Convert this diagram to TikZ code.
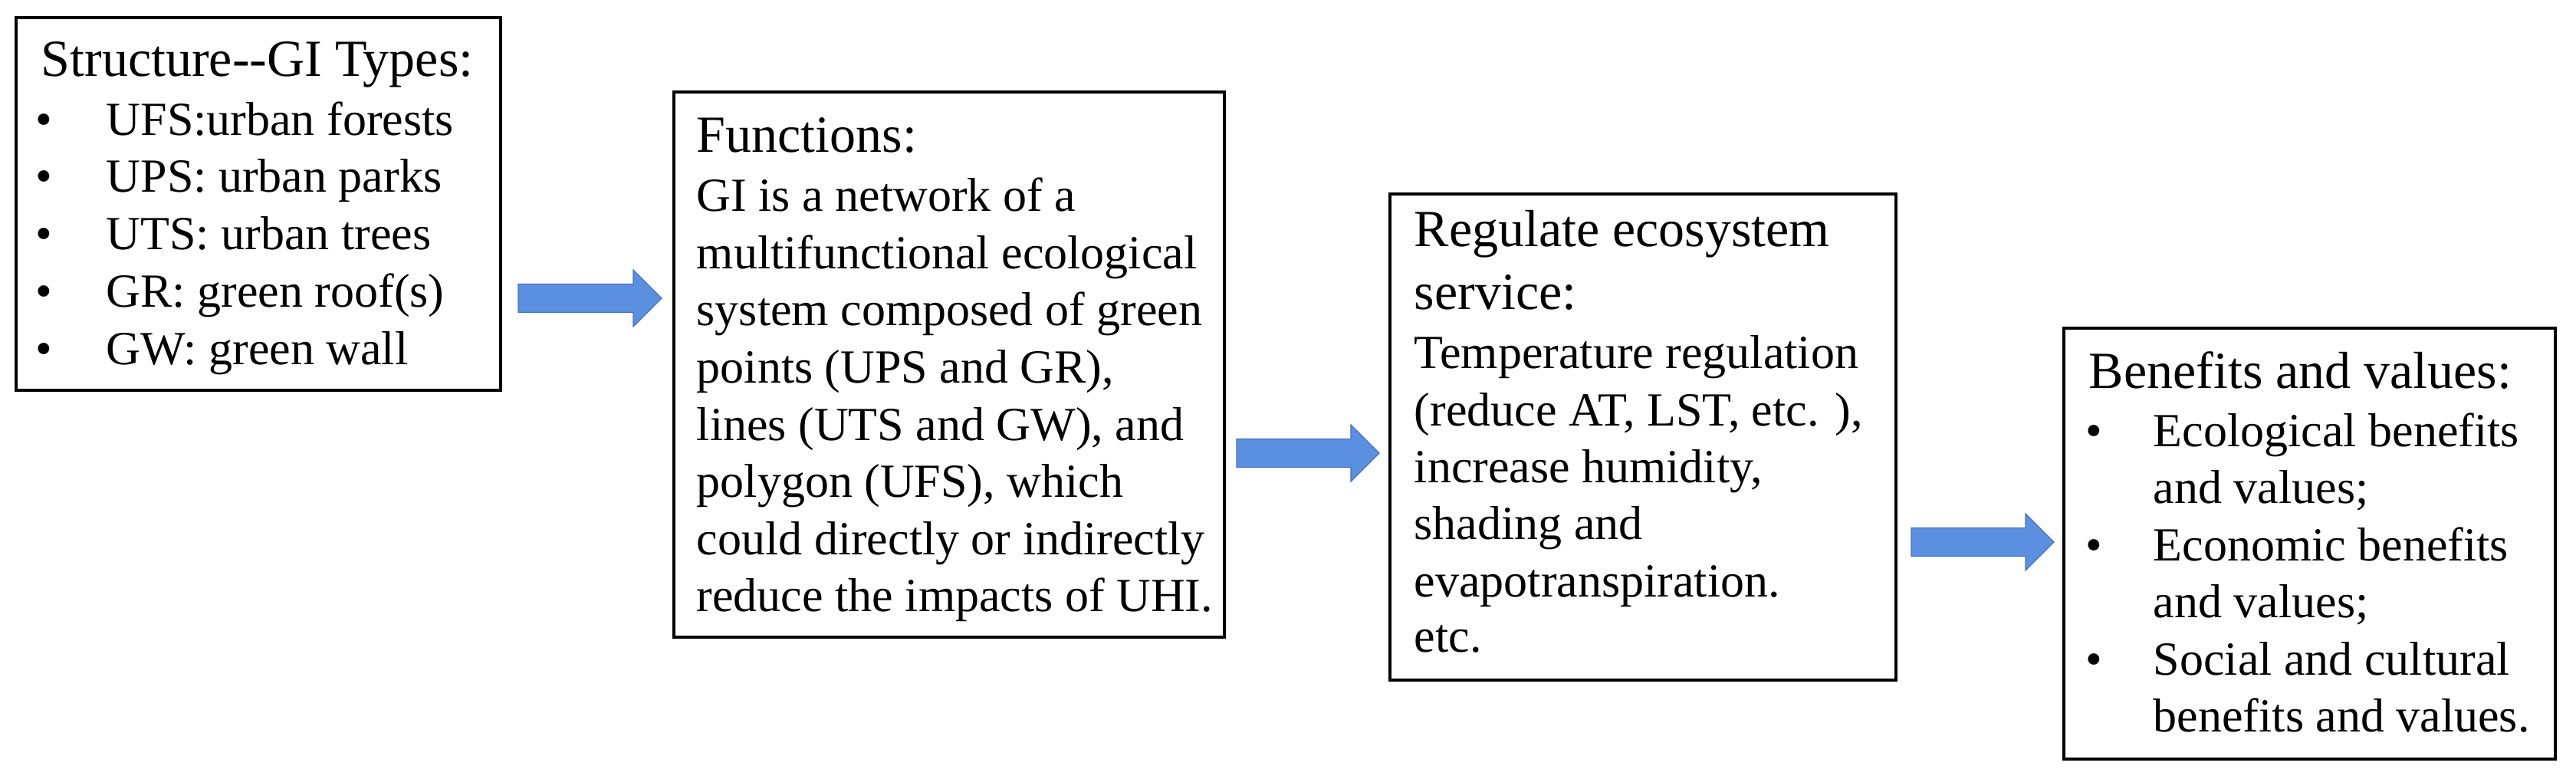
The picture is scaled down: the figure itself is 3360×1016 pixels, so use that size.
\documentclass[tikz,border=0pt]{standalone}
\usepackage{fontspec}
\newfontfamily\tnr{Liberation Serif}
\usetikzlibrary{calc}
\definecolor{arrowblue}{RGB}{91,143,224}
\definecolor{arrowedge}{RGB}{68,114,196}
\tikzset{
  boxst/.style={draw=black, line width=1pt, anchor=north west, inner sep=0pt, outer sep=0pt},
  body/.style={inner sep=0pt, anchor=base west, font=\tnr\fontsize{15.5}{18.75}\selectfont},
  ttl/.style={inner sep=0pt, anchor=base west, font=\tnr\fontsize{17}{20.25}\selectfont},
  bul/.style={inner sep=0pt, anchor=base, font=\tnr\fontsize{15.5}{18.75}\selectfont},
  arrowfill/.style={fill=arrowblue, draw=arrowedge, line width=0.3pt}
}
\newcommand\blkarrow[2]{%
  \filldraw[arrowfill] ($(#1)+(0,-18.5)$) -- ($(#2)+(-37,-18.5)$) -- ($(#2)+(-37,-37)$) -- (#2)
    -- ($(#2)+(-37,37)$) -- ($(#2)+(-37,18.5)$) -- ($(#1)+(0,18.5)$) -- cycle;}
\begin{document}
\begin{tikzpicture}[x=0.25pt,y=-0.25pt]
\useasboundingbox (0,0) rectangle (3360,1016);
% boxes
\node[boxst, minimum width=158pt, minimum height=121.5pt] (b1) at (21,23) {};
\node[boxst, minimum width=179.5pt, minimum height=177.75pt] (b2) at (879,120) {};
\node[boxst, minimum width=165pt, minimum height=158.5pt] (b3) at (1813,253) {};
\node[boxst, minimum width=160.25pt, minimum height=140.5pt] (b4) at (2692,428) {};
% box 1
\node[ttl] (b1title) at (53,100) {Structure-{}-GI Types:};
\foreach \n/\y/\t in {1/177/{UFS:urban forests},2/251/{UPS: urban parks},3/325/{UTS: urban trees},4/400/{GR: green roof(s)},5/475/{GW: green wall}}{
  \node[bul] (b1d\n) at (57,\y) {•};
  \node[body] (b1t\n) at (138,\y) {\t};
}
% box 2
\node[ttl] (b2title) at (908,198) {Functions:};
\foreach \n/\y/\t in {1/276/{GI is a network of a},2/350/{multifunctional ecological},3/424/{system composed of green},4/499/{points (UPS and GR),},5/574/{lines (UTS and GW), and},6/648/{polygon (UFS), which},7/723/{could directly or indirectly},8/797/{reduce the impacts of UHI.}}{
  \node[body] (b2t\n) at (908,\y) {\t};
}
% box 3
\node[ttl] (b3title1) at (1844,322) {Regulate ecosystem};
\node[ttl] (b3title2) at (1844,403) {service:};
\foreach \n/\y/\t in {1/480/{Temperature regulation},2/555/{(reduce AT, LST, etc. ),},3/629/{increase humidity,},4/703/{shading and},5/778/{evapotranspiration.},6/850/{etc.}}{
  \node[body] (b3t\n) at (1844,\y) {\t};
}
% box 4
\node[ttl] (b4title) at (2724,506) {Benefits and values:};
\foreach \n/\y in {1/582,2/731,3/880}{
  \node[bul] (b4d\n) at (2731,\y) {•};
}
\foreach \n/\y/\t in {1/582/{Ecological benefits},2/656/{and values;},3/731/{Economic benefits},4/805/{and values;},5/880/{Social and cultural},6/954/{benefits and values.}}{
  \node[body] (b4t\n) at (2808,\y) {\t};
}
% arrows
\coordinate (a1s) at (676,389);
\coordinate (a1e) at (863,389);
\coordinate (a2s) at (1613,591);
\coordinate (a2e) at (1799,591);
\coordinate (a3s) at (2493,707);
\coordinate (a3e) at (2679,707);
\blkarrow{a1s}{a1e}
\blkarrow{a2s}{a2e}
\blkarrow{a3s}{a3e}
\end{tikzpicture}
\end{document}
